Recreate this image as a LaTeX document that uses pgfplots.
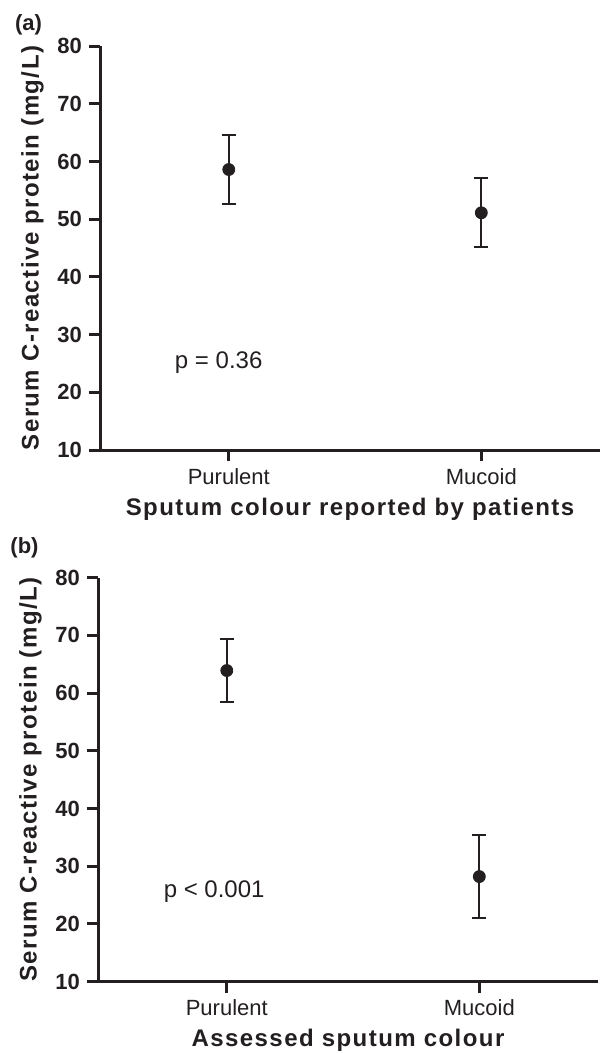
\documentclass[border=0pt]{standalone}
\usepackage{fontspec}
\setmainfont{Liberation Sans}
\usepackage{pgfplots}
\pgfplotsset{compat=1.18}

\definecolor{ink}{HTML}{231F20}

\pgfplotsset{
  crpaxis/.style={
    scale only axis,
    width=250pt, height=202pt,
    xmin=0.49, xmax=2.47,
    ymin=10, ymax=80,
    ytick={10,20,...,80},
    xtick={1,2}, xticklabels={Purulent,Mucoid},
    axis x line*=bottom, axis y line*=left,
    xtick pos=bottom, ytick pos=left,
    axis line style={ink, line width=1.5pt},
    tick style={ink, line width=1.5pt},
    major tick length=5.5pt,
    tick align=outside,
    /pgf/number format/assume math mode=true,
    yticklabel style={font=\fontsize{11}{13}\selectfont\bfseries, text=ink},
    xticklabel style={font=\fontsize{11}{13}\selectfont, text=ink},
    ylabel={Serum C-reactive protein (mg/L)},
    ylabel style={font=\fontsize{12}{14}\selectfont\bfseries\addfontfeatures{LetterSpace=6}, text=ink},
    xlabel style={font=\fontsize{12}{14}\selectfont\bfseries\addfontfeatures{LetterSpace=6}, text=ink},
    clip=false,
  },
  crpdots/.style={
    ink, only marks, mark=*, mark size=3pt,
    mark options={fill=ink, draw=ink},
    error bars/.cd, y dir=both, y explicit,
    error bar style={ink, line width=1pt},
    error mark options={rotate=90, mark size=3.5pt, line width=1pt, ink},
  }
}

\begin{document}
\begin{tikzpicture}
\useasboundingbox (0,0) rectangle (300pt,-526.5pt);

% (a) sputum colour reported by patients
\begin{axis}[crpaxis, at={(50pt,-225pt)}, anchor=south west,
    xlabel={Sputum colour reported by patients}]
\addplot[crpdots] coordinates {
  (1,58.6) +- (0,5.9)
  (2,51.1) +- (0,6.0)
};
\node[font=\fontsize{12}{14}\selectfont, text=ink] at (axis cs:0.96,25.1) {p = 0.36};
\end{axis}
\node[font=\fontsize{11}{13}\selectfont\bfseries, text=ink] at (14.25pt,-12.5pt) {(a)};

% (b) assessed sputum colour
\begin{axis}[crpaxis, at={(49pt,-490.8pt)}, anchor=south west,
    xlabel={Assessed sputum colour}]
\addplot[crpdots] coordinates {
  (1,63.9) +- (0,5.4)
  (2,28.2) +- (0,7.2)
};
\node[font=\fontsize{12}{14}\selectfont, text=ink] at (axis cs:0.95,25.6) {p < 0.001};
\end{axis}
\node[font=\fontsize{11}{13}\selectfont\bfseries, text=ink] at (12.25pt,-274pt) {(b)};
\end{tikzpicture}
\end{document}
